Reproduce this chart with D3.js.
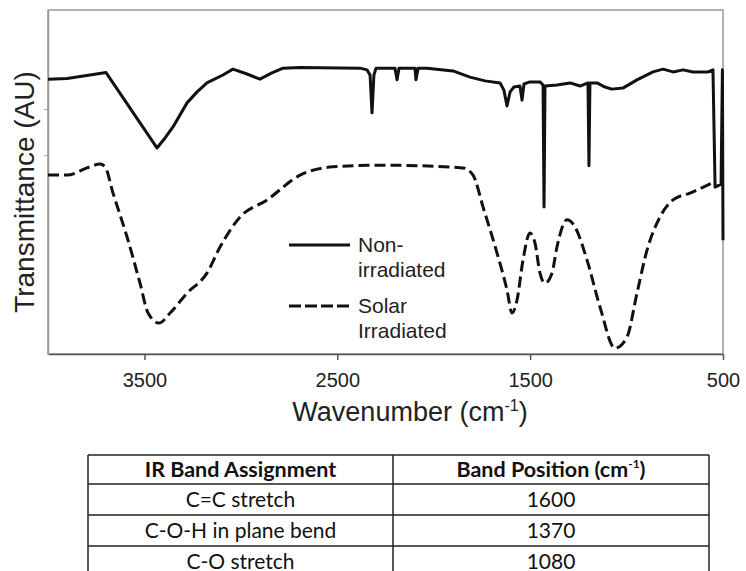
<!DOCTYPE html>
<html>
<head>
<meta charset="utf-8">
<script src="https://cdn.jsdelivr.net/npm/d3@7"></script>
<style>
  body { margin: 0; background: #fff; }
  text { font-family: "Liberation Sans", Arial, sans-serif; fill: #222; }
  .tbl text { font-family: Lato, "Open Sans", sans-serif; fill: #111; }
</style>
</head>
<body>
<script>
// FTIR spectra: wavenumber (cm-1) and transmittance (AU)
var solidWn = [4000, 3901, 3782, 3699, 3435, 3393, 3352, 3279, 3227, 3176, 3093, 3041, 2968, 2901, 2839, 2781, 2693,
  2382, 2346, 2330, 2320, 2310, 2299, 2201, 2190, 2180, 2097, 2092, 2081, 2035, 1900, 1812, 1734, 1656, 1636,
  1620, 1604, 1584, 1553, 1542, 1532, 1501, 1449, 1433, 1428, 1423, 1361, 1293, 1241, 1200, 1195, 1190, 1153,
  1112, 1076, 1019, 946, 863, 811, 759, 707, 656, 578, 552, 541, 510, 503, 500];
var solidT = [79.9, 80.1, 81.1, 81.8, 59.9, 62.8, 66.0, 73.0, 76.2, 78.8, 81.1, 82.8, 81.4, 79.9, 81.7, 83.1, 83.3,
  83.1, 82.6, 81.1, 70.1, 81.1, 83.1, 83.1, 79.7, 83.1, 83.1, 79.7, 83.1, 83.1, 82.3, 80.5, 79.4, 78.8, 76.7,
  72.1, 76.2, 77.6, 77.9, 73.8, 78.5, 79.1, 79.1, 78.2, 42.7, 77.9, 78.2, 78.8, 77.9, 78.8, 54.7, 78.8, 78.8,
  77.6, 77.0, 77.3, 79.7, 82.0, 82.8, 82.0, 82.6, 82.0, 82.0, 82.6, 48.5, 49.4, 82.6, 33.1];

var dashWn = [4000, 3901, 3798, 3730, 3704, 3663, 3590, 3523, 3481, 3424, 3367, 3279, 3176, 3108, 3004, 2864, 2693,
  2522, 2279, 1848, 1796, 1744, 1672, 1620, 1594, 1568, 1537, 1501, 1475, 1449, 1423, 1387, 1361, 1309, 1267,
  1205, 1138, 1060, 998, 946, 894, 827, 759, 671, 557];
var dashT = [52.0, 52.0, 54.1, 55.2, 54.4, 46.8, 34.0, 20.6, 11.9, 9.0, 11.9, 17.7, 23.5, 31.1, 39.8, 44.8, 52.0,
  54.4, 54.9, 54.1, 52.0, 42.7, 29.4, 18.6, 11.9, 15.7, 27.3, 35.2, 32.3, 23.5, 20.6, 23.5, 31.1, 39.0, 36.9,
  27.3, 13.7, 1.7, 4.9, 17.7, 30.2, 39.8, 44.8, 46.8, 49.7];

var xTicks = [3500, 2500, 1500, 500];
var yTicks = [57.8, 71.2];
var legendLabels = [['Non-', 'irradiated'], ['Solar', 'Irradiated']];

var tableHeaders = ['IR Band Assignment', 'Band Position'];
var bandNames = ['C=C stretch', 'C-O-H in plane bend', 'C-O stretch'];
var bandPositions = [1600, 1370, 1080];

// Layout
var WIDTH = 746, HEIGHT = 571;
var LEFT = 48, RIGHT = 723, TOP = 10, BOTTOM = 354;
var LINE_W = 3;

var x = d3.scaleLinear().domain([4000, 500]).range([LEFT, RIGHT]);
var y = d3.scaleLinear().domain([0, 100]).range([BOTTOM, TOP]);

var svg = d3.select('body').append('svg')
  .attr('width', WIDTH)
  .attr('height', HEIGHT);

svg.append('rect').attr('width', WIDTH).attr('height', HEIGHT).attr('fill', '#fff');

// plot frame
svg.append('rect')
  .attr('x', LEFT).attr('y', TOP)
  .attr('width', RIGHT - LEFT).attr('height', BOTTOM - TOP)
  .attr('fill', 'none')
  .attr('stroke', '#9a9a9a')
  .attr('stroke-width', 1.5);

var xAxis = svg.append('g')
  .attr('transform', 'translate(0,' + BOTTOM + ')')
  .call(d3.axisBottom(x).tickValues(xTicks).tickFormat(d3.format('d'))
    .tickSize(6).tickSizeOuter(0).tickPadding(13));
xAxis.select('.domain').attr('stroke', '#555').attr('stroke-width', 1.5);
xAxis.selectAll('.tick line').attr('stroke', '#555').attr('stroke-width', 1.5);
xAxis.selectAll('.tick text')
  .attr('font-family', '"Liberation Sans", Arial, sans-serif')
  .attr('font-size', 20)
  .attr('fill', '#222');

var yAxis = svg.append('g')
  .attr('transform', 'translate(' + LEFT + ',0)')
  .call(d3.axisLeft(y).tickValues(yTicks).tickSize(4).tickSizeOuter(0).tickFormat(''));
yAxis.select('.domain').attr('stroke', '#9a9a9a').attr('stroke-width', 1.5);
yAxis.selectAll('.tick line').attr('stroke', '#9a9a9a').attr('stroke-width', 1);

// axis titles
var xTitle = svg.append('text')
  .attr('x', 410).attr('y', 421)
  .attr('text-anchor', 'middle')
  .attr('font-size', 27);
xTitle.append('tspan').text('Wavenumber (cm');
xTitle.append('tspan').attr('font-size', 16).attr('dy', -10).text('-1');
xTitle.append('tspan').attr('dy', 10).text(')');

svg.append('text')
  .attr('transform', 'translate(34,192) rotate(-90)')
  .attr('text-anchor', 'middle')
  .attr('font-size', 28)
  .text('Transmittance (AU)');

// spectra
var solid = solidWn.map(function (w, i) { return { w: w, t: solidT[i] }; });
var dashed = dashWn.map(function (w, i) { return { w: w, t: dashT[i] }; });

var lineFn = d3.line()
  .x(function (d) { return x(d.w); })
  .y(function (d) { return y(d.t); });

svg.append('path')
  .attr('d', lineFn.curve(d3.curveMonotoneX)(dashed))
  .attr('fill', 'none')
  .attr('stroke', '#111')
  .attr('stroke-width', LINE_W)
  .attr('stroke-dasharray', '11,5');

svg.append('path')
  .attr('d', lineFn.curve(d3.curveLinear)(solid))
  .attr('fill', 'none')
  .attr('stroke', '#111')
  .attr('stroke-width', LINE_W)
  .attr('stroke-linejoin', 'round');

// legend
var legend = svg.append('g');
legendLabels.forEach(function (lines, i) {
  var ly = 245 + i * 61;
  legend.append('line')
    .attr('x1', 289).attr('x2', 350)
    .attr('y1', ly).attr('y2', ly)
    .attr('stroke', '#111')
    .attr('stroke-width', LINE_W)
    .attr('stroke-dasharray', i === 1 ? '12,4' : null);
  lines.forEach(function (s, j) {
    legend.append('text')
      .attr('x', 358)
      .attr('y', ly + 7 + j * 25)
      .attr('font-size', 21)
      .attr('fill', '#333')
      .text(s);
  });
});

// band assignment table
var tbl = svg.append('g').attr('class', 'tbl');
var T_LEFT = 88, T_MID = 393, T_RIGHT = 709;
var rowEdges = [455, 484, 515, 546, 577];
var col1 = (T_LEFT + T_MID) / 2, col2 = (T_MID + T_RIGHT) / 2;

rowEdges.forEach(function (ry) {
  tbl.append('line')
    .attr('x1', T_LEFT).attr('x2', T_RIGHT)
    .attr('y1', ry).attr('y2', ry)
    .attr('stroke', '#222').attr('stroke-width', 1.5);
});
[T_LEFT, T_MID, T_RIGHT].forEach(function (cx) {
  tbl.append('line')
    .attr('x1', cx).attr('x2', cx)
    .attr('y1', rowEdges[0]).attr('y2', HEIGHT)
    .attr('stroke', '#222').attr('stroke-width', 1.5);
});

tbl.append('text')
  .attr('x', col1).attr('y', 477)
  .attr('text-anchor', 'middle')
  .attr('font-size', 21.5).attr('font-weight', 'bold')
  .text(tableHeaders[0]);

var h2 = tbl.append('text')
  .attr('x', col2).attr('y', 477)
  .attr('text-anchor', 'middle')
  .attr('font-size', 21.5).attr('font-weight', 'bold');
h2.append('tspan').text(tableHeaders[1] + ' (cm');
h2.append('tspan').attr('font-size', 12).attr('dy', -9).text('-1');
h2.append('tspan').attr('dy', 9).text(')');

bandNames.forEach(function (name, i) {
  var ty = (rowEdges[i + 1] + rowEdges[i + 2]) / 2 + 7;
  tbl.append('text')
    .attr('x', col1).attr('y', ty)
    .attr('text-anchor', 'middle')
    .attr('font-size', 21)
    .text(name);
  tbl.append('text')
    .attr('x', col2).attr('y', ty)
    .attr('text-anchor', 'middle')
    .attr('font-size', 21)
    .text(bandPositions[i]);
});
</script>
</body>
</html>
